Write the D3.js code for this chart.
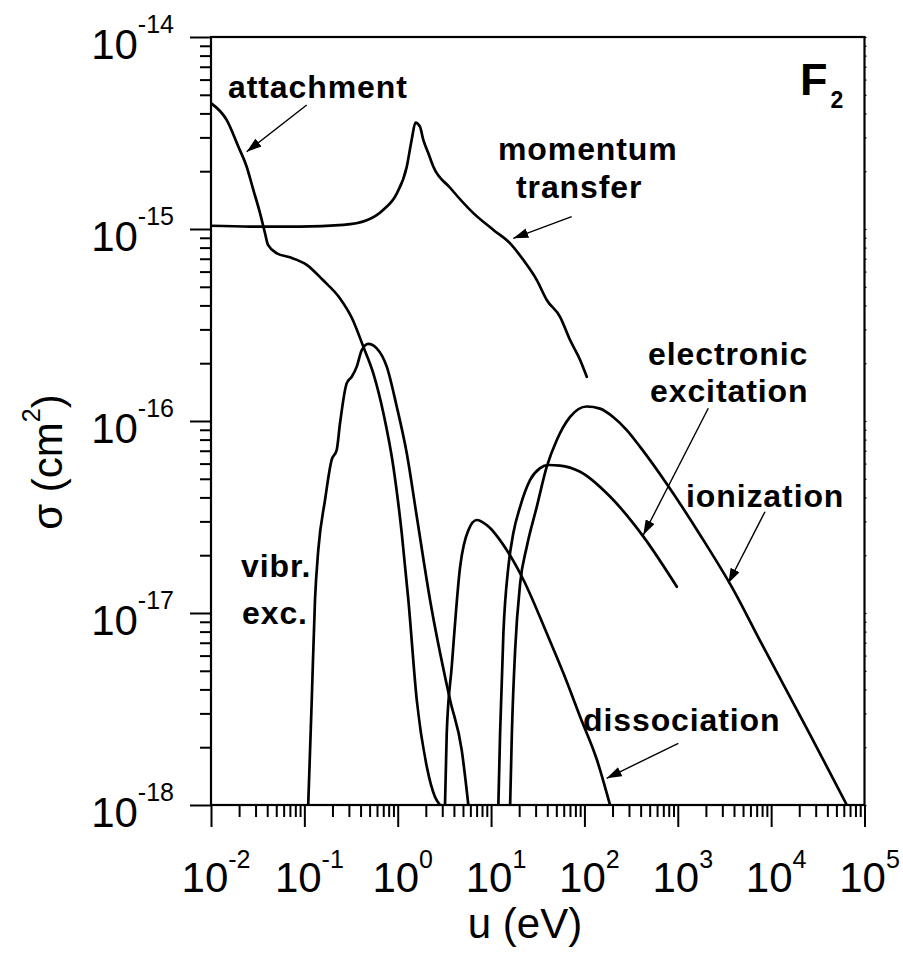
<!DOCTYPE html>
<html>
<head>
<meta charset="utf-8">
<script src="https://cdn.jsdelivr.net/npm/d3@7"></script>
<style>
  body { margin: 0; background: #fff; }
  svg { display: block; }
  text { font-family: "Liberation Sans", Arial, Helvetica, sans-serif; fill: #000; }
</style>
</head>
<body>
<svg id="chart" width="903" height="953"></svg>
<script>
// Electron collision cross sections for F2: [energy u (eV), sigma (cm^2)]
const attachment = [
  [0.0100, 4.52e-15], [0.0147, 3.70e-15], [0.0196, 2.69e-15], [0.0241, 2.11e-15],
  [0.0284, 1.60e-15], [0.0335, 1.21e-15], [0.0379, 9.50e-16], [0.0408, 8.26e-16],
  [0.0509, 7.47e-16], [0.0702, 7.12e-16], [0.107, 6.49e-16], [0.158, 5.42e-16],
  [0.241, 4.35e-16], [0.324, 3.43e-16], [0.428, 2.44e-16], [0.548, 1.77e-16],
  [0.702, 1.10e-16], [0.898, 5.78e-17], [1.105, 2.60e-17], [1.30, 1.17e-17],
  [1.60, 3.52e-18], [2.05, 1.58e-18], [2.51, 1.10e-18], [2.84, 1.00e-18]
];

const momentumTransfer = [
  [0.0100, 1.04e-15], [0.0262, 1.03e-15], [0.0899, 1.03e-15], [0.262, 1.05e-15],
  [0.466, 1.11e-15], [0.702, 1.26e-15], [0.976, 1.53e-15], [1.25, 2.11e-15],
  [1.41, 2.91e-15], [1.55, 3.58e-15], [1.73, 3.41e-15], [1.88, 2.91e-15],
  [2.13, 2.48e-15], [2.41, 2.11e-15], [3.64, 1.64e-15], [6.46, 1.21e-15],
  [10.6, 9.89e-16], [16.0, 8.42e-16], [22.2, 6.89e-16], [30.9, 5.42e-16],
  [39.5, 4.27e-16], [54.8, 3.49e-16], [70.2, 2.64e-16], [89.9, 2.08e-16],
  [106, 1.70e-16]
];

const vibrationalExcitation = [
  [0.110, 1.00e-18], [0.120, 3.52e-18], [0.130, 1.17e-17], [0.141, 2.13e-17],
  [0.1665, 3.88e-17], [0.196, 6.27e-17], [0.222, 7.06e-17], [0.241, 9.73e-17],
  [0.284, 1.57e-16], [0.322, 1.70e-16], [0.364, 1.92e-16], [0.412, 2.34e-16],
  [0.485, 2.52e-16], [0.596, 2.39e-16], [0.763, 1.92e-16], [0.976, 1.19e-16],
  [1.25, 6.79e-17], [1.60, 3.18e-17], [2.22, 1.17e-17], [3.64, 3.52e-18],
  [4.85, 1.93e-18], [5.71, 1.00e-18]
];

const dissociation = [
  [3.21, 1.00e-18], [3.35, 2.36e-18], [3.79, 5.25e-18], [4.66, 1.74e-17],
  [5.71, 2.70e-17], [7.03, 3.05e-17], [9.0, 2.87e-17], [14.7, 2.13e-17],
  [22.2, 1.49e-17], [39.5, 7.84e-18], [59.6, 4.85e-18], [89.9, 2.88e-18],
  [136, 1.72e-18], [188, 1.00e-18]
];

const electronicExcitation = [
  [11.97, 1.00e-18], [12.49, 2.36e-18], [13.55, 7.84e-18], [15.32, 1.74e-17],
  [17.3, 2.60e-17], [20.5, 3.58e-17], [26.2, 4.93e-17], [33.5, 5.68e-17],
  [41.1, 5.90e-17], [54.8, 5.86e-17], [89.9, 5.44e-17], [188, 4.04e-17],
  [428, 2.50e-17], [977, 1.37e-17]
];

const ionization = [
  [16.0, 1.00e-18], [16.7, 2.36e-18], [18.1, 6.41e-18], [20.5, 1.43e-17],
  [24.1, 2.21e-17], [30.9, 3.58e-17], [39.5, 5.78e-17], [50.6, 7.96e-17],
  [70.2, 1.05e-16], [106, 1.19e-16], [147, 1.16e-16], [203, 1.05e-16],
  [284, 8.97e-17], [395, 7.33e-17], [763, 4.70e-17], [1735, 2.55e-17],
  [3945, 1.32e-17], [7621, 7.15e-18], [26200, 2.32e-18], [64700, 1.00e-18]
];

// Decade exponents for the tick labels
const xTickExponents = [-2, -1, 0, 1, 2, 3, 4, 5];
const yTickExponents = [-14, -15, -16, -17, -18];

const series = [attachment, momentumTransfer, vibrationalExcitation,
                dissociation, electronicExcitation, ionization];

// ---- layout ----
const margin = { left: 211, top: 37 };
const W = 653.5, H = 768;

const svg = d3.select("#chart");
const g = svg.append("g").attr("transform", `translate(${margin.left},${margin.top})`);

const x = d3.scaleLog().domain([1e-2, 1e5]).range([0, W]);
const y = d3.scaleLog().domain([1e-18, 1e-14]).range([H, 0]);

// major (decade) and minor (2..9) tick values
const decadesX = d3.range(-2, 6).map(e => Math.pow(10, e));
const minorX = d3.range(-2, 5).flatMap(e => d3.range(2, 10).map(k => k * Math.pow(10, e)));
const decadesY = d3.range(-18, -13).map(e => Math.pow(10, e));
const minorY = d3.range(-18, -14).flatMap(e => d3.range(2, 10).map(k => k * Math.pow(10, e)));

function styleAxis(sel) {
  sel.select(".domain").remove();
  sel.selectAll(".tick line").attr("stroke", "#000").attr("stroke-width", 2);
  sel.selectAll(".tick text").remove();
}

// bottom axis ticks
g.append("g").attr("transform", `translate(0,${H})`)
  .call(d3.axisBottom(x).tickValues(minorX).tickSize(12).tickSizeOuter(0).tickFormat(""))
  .call(styleAxis);
g.append("g").attr("transform", `translate(0,${H})`)
  .call(d3.axisBottom(x).tickValues(decadesX).tickSize(22).tickSizeOuter(0).tickFormat(""))
  .call(styleAxis);

// left axis ticks
g.append("g")
  .call(d3.axisLeft(y).tickValues(minorY).tickSize(11).tickSizeOuter(0).tickFormat(""))
  .call(styleAxis);
g.append("g")
  .call(d3.axisLeft(y).tickValues(decadesY).tickSize(21).tickSizeOuter(0).tickFormat(""))
  .call(styleAxis);

// small ticks on the right border
g.append("g").attr("transform", `translate(${W},0)`)
  .call(d3.axisRight(y).tickValues(minorY.concat(decadesY)).tickSize(2).tickSizeOuter(0).tickFormat(""))
  .call(styleAxis)
  .selectAll(".tick line").attr("stroke-width", 1.2);

// frame
g.append("rect")
  .attr("x", 0).attr("y", 0).attr("width", W).attr("height", H)
  .attr("fill", "none").attr("stroke", "#000").attr("stroke-width", 2.2);

// x tick labels: 10^n
const xLab = g.append("g").selectAll("text").data(xTickExponents).join("text")
  .attr("x", d => x(Math.pow(10, d)) + 5)
  .attr("y", H + 87)
  .attr("text-anchor", "middle")
  .style("font-size", "42px");
xLab.append("tspan").text("10");
xLab.append("tspan").attr("dy", -24).style("font-size", "25px").text(d => String(d));

// y tick labels: 10^n
const yLab = g.append("g").selectAll("text").data(yTickExponents).join("text")
  .attr("x", -37)
  .attr("y", d => y(Math.pow(10, d)) + 22)
  .attr("text-anchor", "end")
  .style("font-size", "42px");
yLab.append("tspan").text("10");
yLab.append("tspan").attr("dy", -26).style("font-size", "25px").text(d => String(d));

// axis titles
g.append("text")
  .attr("x", 314).attr("y", H + 133)
  .attr("text-anchor", "middle")
  .style("font-size", "42px")
  .text("u (eV)");

const yTitle = g.append("text")
  .attr("transform", `translate(${62 - margin.left},${462 - margin.top}) rotate(-90)`)
  .attr("text-anchor", "middle")
  .style("font-size", "42px");
yTitle.append("tspan").text("σ (cm");
yTitle.append("tspan").attr("dy", -22).style("font-size", "25px").text("2");
yTitle.append("tspan").attr("dy", 22).text(")");

// curves
svg.append("defs").append("clipPath").attr("id", "plot-clip")
  .append("rect").attr("x", 0).attr("y", 0).attr("width", W).attr("height", H);

const line = d3.line()
  .x(d => x(d[0]))
  .y(d => y(d[1]))
  .curve(d3.curveMonotoneX);

g.append("g").attr("clip-path", "url(#plot-clip)")
  .selectAll("path").data(series).join("path")
  .attr("d", line)
  .attr("fill", "none")
  .attr("stroke", "#000")
  .attr("stroke-width", 2.7)
  .attr("stroke-linejoin", "round")
  .attr("stroke-linecap", "round");

// annotations (offsets inside the plot frame)
svg.select("defs").append("marker")
  .attr("id", "arrowhead")
  .attr("markerUnits", "userSpaceOnUse")
  .attr("markerWidth", 16).attr("markerHeight", 10)
  .attr("refX", 15).attr("refY", 5)
  .attr("orient", "auto")
  .append("path").attr("d", "M0,0 L15,5 L0,10 Z").attr("fill", "#000");

const labels = [
  { text: "attachment", x: 17, y: 61 },
  { text: "momentum", x: 287, y: 123 },
  { text: "transfer", x: 305, y: 161 },
  { text: "electronic", x: 437, y: 328 },
  { text: "excitation", x: 439, y: 365 },
  { text: "ionization", x: 475, y: 470 },
  { text: "dissociation", x: 372, y: 694 },
  { text: "vibr.", x: 30, y: 540 },
  { text: "exc.", x: 31, y: 587 }
];

g.append("g").selectAll("text").data(labels).join("text")
  .attr("x", d => d.x).attr("y", d => d.y)
  .style("font-size", "32px").style("font-weight", "bold")
  .style("letter-spacing", "0.9px")
  .text(d => d.text);

const arrows = [
  { from: [95.7, 68], to: [35.7, 114.7] },
  { from: [360.7, 179.7], to: [302.3, 201.3] },
  { from: [497.3, 371.3], to: [432.3, 498] },
  { from: [554, 474.7], to: [517.3, 546.3] },
  { from: [467.3, 706.3], to: [395.7, 741.3] }
];

g.append("g").selectAll("line").data(arrows).join("line")
  .attr("x1", d => d.from[0]).attr("y1", d => d.from[1])
  .attr("x2", d => d.to[0]).attr("y2", d => d.to[1])
  .attr("stroke", "#000").attr("stroke-width", 1.4)
  .attr("marker-end", "url(#arrowhead)");

// molecule tag F2
const tag = g.append("text").attr("x", 589).attr("y", 58)
  .style("font-weight", "bold").style("font-size", "45px");
tag.append("tspan").text("F");
tag.append("tspan").attr("dy", 13).attr("dx", 3).style("font-size", "23px").text("2");
</script>
</body>
</html>
